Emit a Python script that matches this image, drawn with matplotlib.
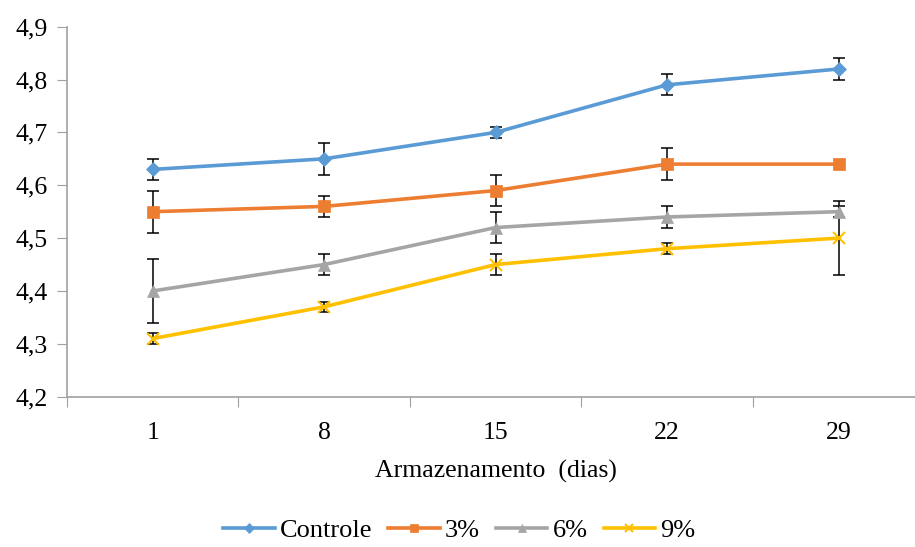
import numpy as np
import matplotlib.pyplot as plt

plt.rcParams['font.family'] = ['Liberation Serif', 'DejaVu Serif']

dias = ['1', '8', '15', '22', '29']

controle = [4.63, 4.65, 4.70, 4.79, 4.82]
controle_err = [0.02, 0.03, 0.01, 0.02, 0.02]

p3 = [4.55, 4.56, 4.59, 4.64, 4.64]
p3_err = [0.04, 0.02, 0.03, 0.03, 0.0]

p6 = [4.40, 4.45, 4.52, 4.54, 4.55]
p6_err = [0.06, 0.02, 0.03, 0.02, 0.01]

p9 = [4.31, 4.37, 4.45, 4.48, 4.50]
p9_err = [0.01, 0.01, 0.02, 0.01, 0.07]

series = [
    ('Controle', controle, controle_err, '#5B9BD5', 'D', 7.5),
    ('3%', p3, p3_err, '#ED7D31', 's', 8),
    ('6%', p6, p6_err, '#A5A5A5', '^', 9),
    ('9%', p9, p9_err, '#FFC000', 'x', 9),
]

fig = plt.figure(figsize=(9.15, 5.47), dpi=100)
ax = fig.add_axes([0.0732, 0.2748, 0.937, 0.6764])

x = np.arange(1, len(dias) + 1)

for name, vals, err, col, mk, ms in series:
    ax.errorbar(x, vals, yerr=err, fmt='none', ecolor='black', elinewidth=1.1,
                capsize=4.5, capthick=1.1, zorder=2)
    ax.plot(x, vals, color=col, lw=2.6, marker=mk, markersize=ms,
            markeredgewidth=1.5 if mk == 'x' else 0.5, markeredgecolor=col,
            label=name, zorder=3)

ax.set_xlim(0.5, len(dias) + 0.5)
ax.set_ylim(4.2, 4.9)
ax.set_yticks(np.arange(4.2, 4.91, 0.1))
ax.set_yticklabels([('%.1f' % v).replace('.', ',') for v in np.arange(4.2, 4.91, 0.1)])

ax.set_xticks(np.arange(0.5, len(dias) + 1, 1.0))
ax.set_xticklabels([])
ax.set_xticks(x, minor=True)
ax.set_xticklabels(dias, minor=True)
ax.tick_params(axis='x', which='minor', length=0, pad=18, labelsize=18.5)
ax.tick_params(axis='x', which='major', length=7, color='#A0A0A0', direction='out')
ax.tick_params(axis='y', length=7, color='#A0A0A0', labelsize=18.5, pad=7)

for s in ['top', 'right']:
    ax.spines[s].set_visible(False)
for s in ['left', 'bottom']:
    ax.spines[s].set_color('#A0A0A0')
    ax.spines[s].set_linewidth(1.2)

ax.set_xlabel('Armazenamento  (dias)', fontsize=18.5, labelpad=12)

fig.legend(loc='center', bbox_to_anchor=(0.502, 0.03), ncol=4, frameon=False,
           fontsize=19, handlelength=1.95, columnspacing=0.6, handletextpad=0.2,
           markerscale=0.7, borderpad=0.2)

fig.savefig('out.png', dpi=100)
